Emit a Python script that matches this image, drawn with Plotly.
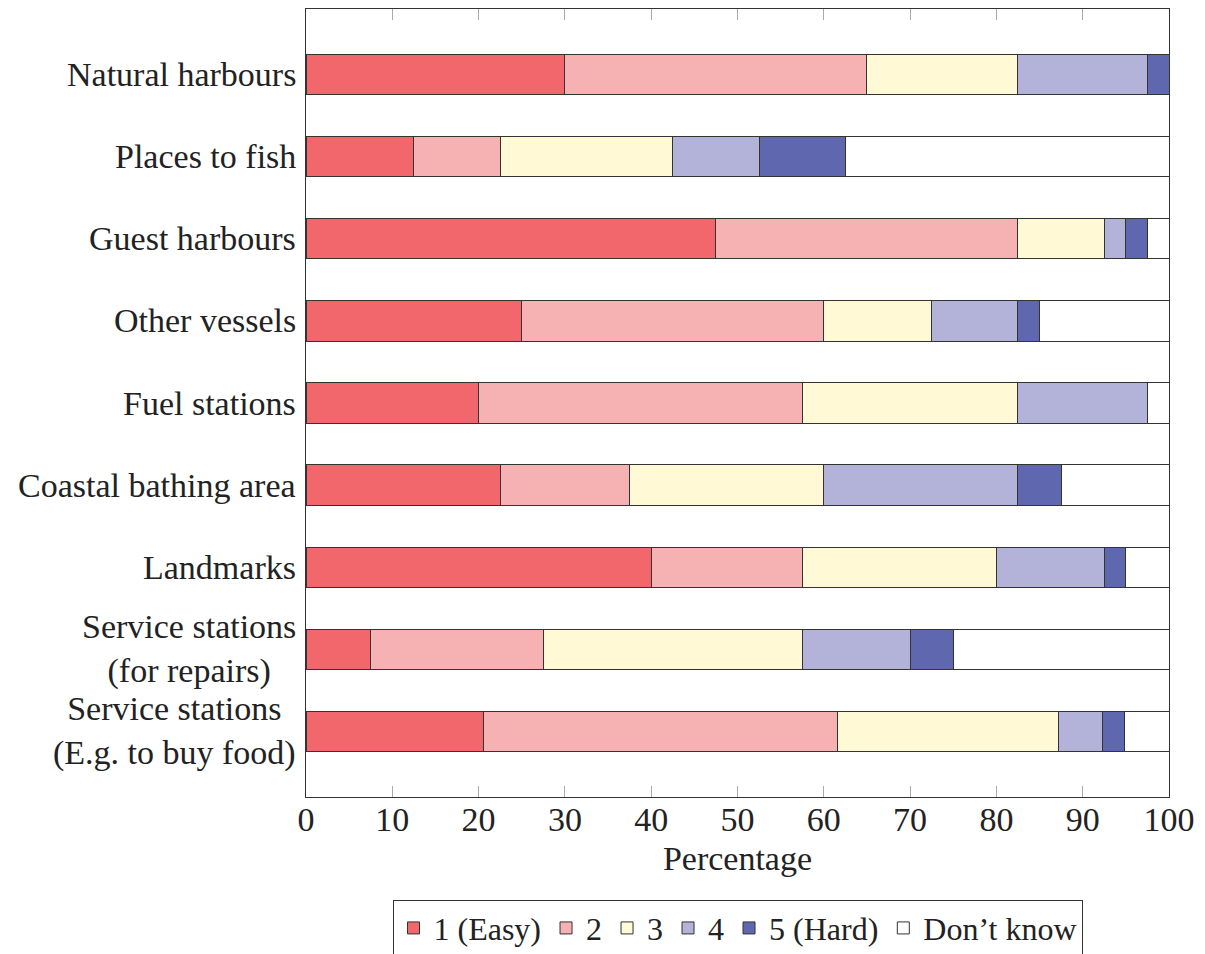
import plotly.graph_objects as go

# Survey categories, top to bottom
categories = [
    "Natural harbours",
    "Places to fish",
    "Guest harbours",
    "Other vessels",
    "Fuel stations",
    "Coastal bathing area",
    "Landmarks",
    "Service stations<br>(for repairs)",
    "Service stations<br>(E.g. to buy food)",
]

# Percentage of answers per difficulty level
easy_1 = [30.0, 12.5, 47.5, 25.0, 20.0, 22.5, 40.0, 7.5, 20.51]
level_2 = [35.0, 10.0, 35.0, 35.0, 37.5, 15.0, 17.5, 20.0, 41.03]
level_3 = [17.5, 20.0, 10.0, 12.5, 25.0, 22.5, 22.5, 30.0, 25.64]
level_4 = [15.0, 10.0, 2.5, 10.0, 15.0, 22.5, 12.5, 12.5, 5.13]
hard_5 = [2.5, 10.0, 2.5, 2.5, 0.0, 5.0, 2.5, 5.0, 2.56]
dont_know = [0.0, 37.5, 2.5, 15.0, 2.5, 12.5, 5.0, 25.0, 5.13]

series_names = ["1 (Easy)", "2", "3", "4", "5 (Hard)", "Don\u2019t know"]
series_values = [easy_1, level_2, level_3, level_4, hard_5, dont_know]
series_colors = ["#F1676B", "#F6B1B3", "#FFF9D6", "#B3B2D8", "#5F68AF", "#FFFFFF"]

x_ticks = list(range(0, 101, 10))

FONT = "Liberation Serif"
FS = 34

fig = go.Figure()
for name, vals, col in zip(series_names, series_values, series_colors):
    fig.add_trace(go.Bar(
        y=categories,
        x=vals,
        name=name,
        orientation="h",
        width=0.49,
        marker=dict(color=col, line=dict(color="#333333", width=1)),
    ))

# Category labels: right-aligned block, lines centred within it
for cat in categories:
    fig.add_annotation(
        x=0, xref="paper", y=cat, yref="y",
        text=cat, showarrow=False,
        xanchor="right", yanchor="middle", align="center",
        xshift=-8,
        font=dict(family=FONT, size=FS, color="#222222"),
    )

fig.update_layout(
    barmode="stack",
    width=1205,
    height=954,
    margin=dict(l=306, r=36, t=9, b=157, autoexpand=False),
    paper_bgcolor="white",
    plot_bgcolor="white",
    font=dict(family=FONT, size=FS, color="#222222"),
    showlegend=True,
    legend=dict(
        orientation="h",
        x=0.5, xanchor="center",
        yref="container",
        y=0.057, yanchor="top",
        bordercolor="#333333", borderwidth=1,
        bgcolor="white",
        font=dict(family=FONT, size=32, color="#222222"),
        itemwidth=30,
        traceorder="normal",
    ),
    xaxis=dict(
        range=[0, 100],
        tickvals=x_ticks,
        ticktext=[str(t) for t in x_ticks],
        ticks="inside",
        ticklen=11,
        tickcolor="#AAAAAA",
        tickwidth=1,
        ticklabelstandoff=-8,
        showline=True,
        linecolor="#333333",
        linewidth=1,
        mirror="ticks",
        showgrid=False,
        zeroline=False,
        title=dict(text="Percentage", standoff=9,
                   font=dict(family=FONT, size=FS, color="#222222")),
        tickfont=dict(family=FONT, size=FS, color="#222222"),
    ),
    yaxis=dict(
        type="category",
        categoryorder="array",
        categoryarray=categories,
        range=[8.8, -0.8],
        showticklabels=False,
        ticks="",
        showline=True,
        linecolor="#333333",
        linewidth=1,
        mirror=True,
        showgrid=False,
        zeroline=False,
    ),
)

fig.write_html("out.html")
